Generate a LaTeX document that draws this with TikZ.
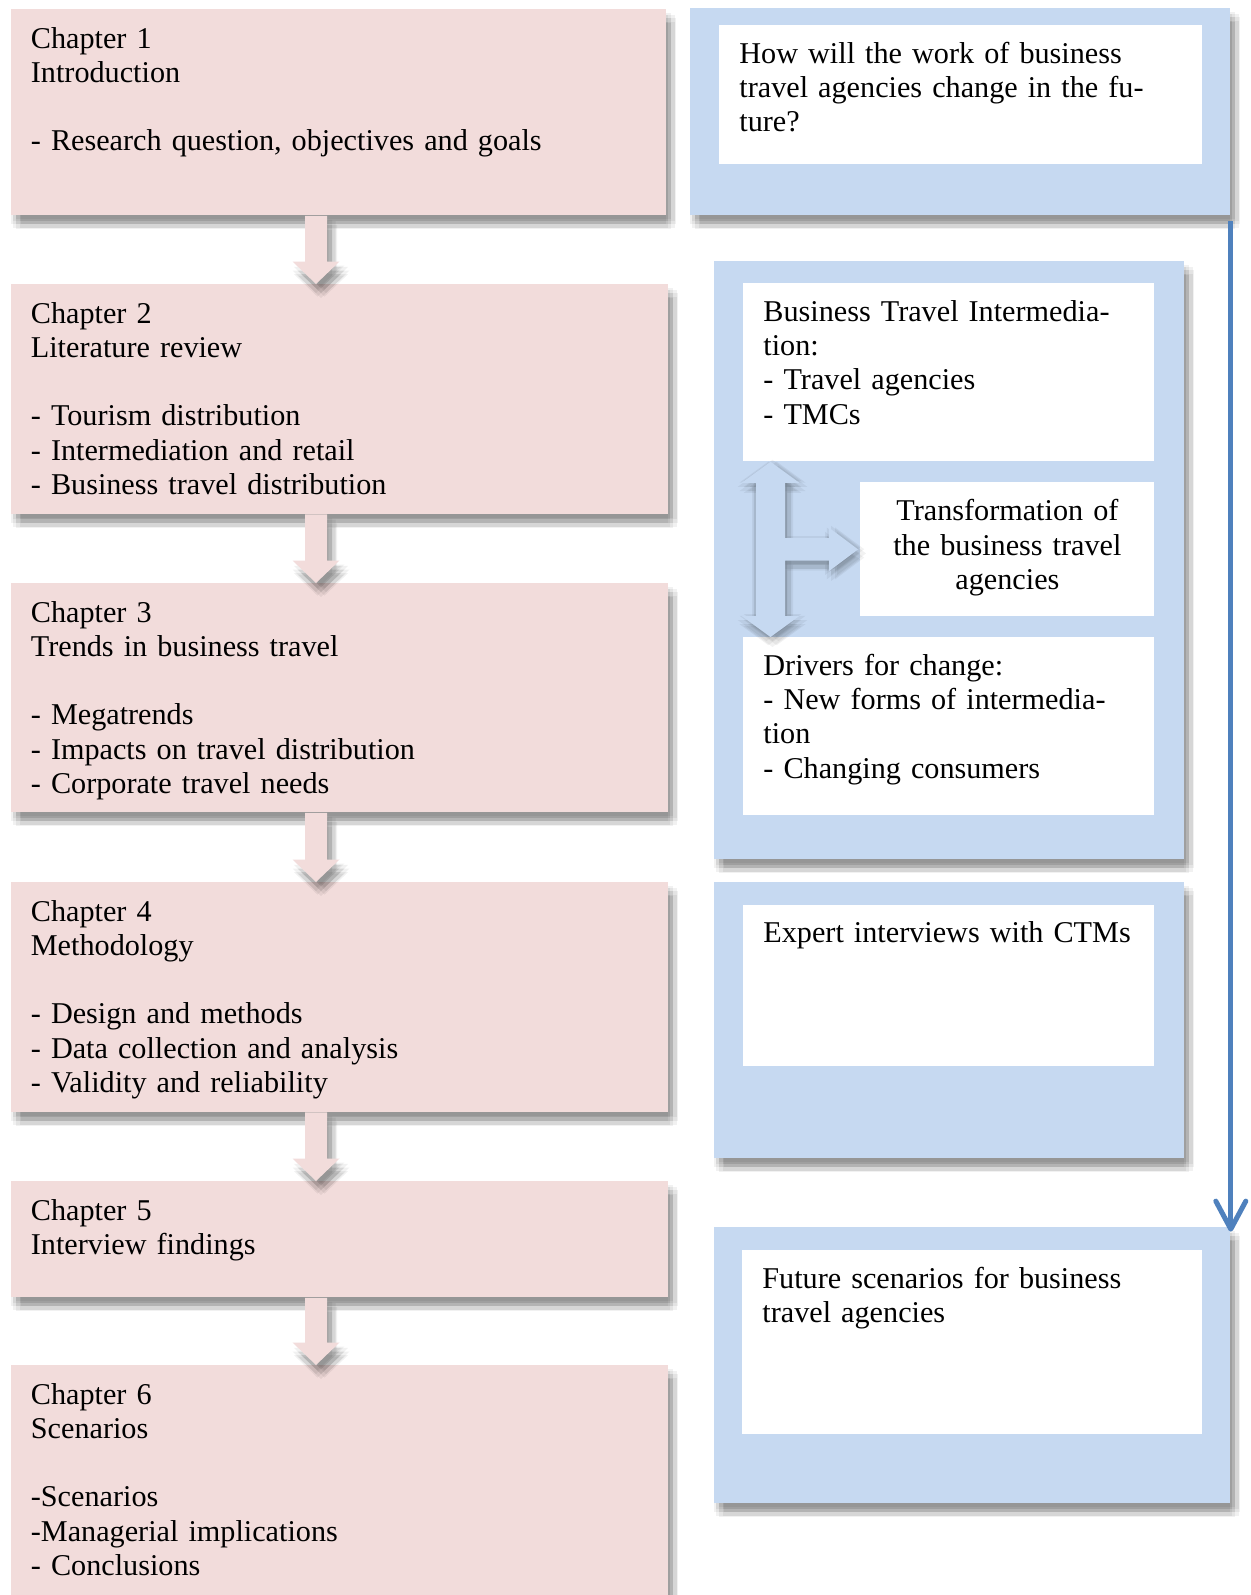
\documentclass[tikz,border=0pt]{standalone}
\usepackage{fontspec}
\setmainfont{Liberation Serif}
\usetikzlibrary{calc,arrows.meta}

\definecolor{chapterpink}{HTML}{F2DCDB}
\definecolor{panelblue}{HTML}{C6D9F1}
\definecolor{flowblue}{HTML}{4F81BD}

\tikzset{
  % one faint shifted copy of the shape; several of them make a soft shadow
  shadowlayer/.style n args={3}{preaction={fill=black, fill opacity=#3, draw=none,
      transform canvas={shift={(#1,#2)}}}},
  softshadow/.style={
      shadowlayer={2.5pt}{-4.5pt}{0.055}, shadowlayer={5pt}{-4.5pt}{0.055},
      shadowlayer={0pt}{-4.5pt}{0.055}, shadowlayer={2.5pt}{-7pt}{0.055},
      shadowlayer={2.5pt}{-2pt}{0.055},
      shadowlayer={4.3pt}{-6.3pt}{0.055}, shadowlayer={0.7pt}{-6.3pt}{0.055},
      shadowlayer={4.3pt}{-2.7pt}{0.055}, shadowlayer={0.7pt}{-2.7pt}{0.055}},
  % wider, nearly centred shadow so the pale arrow stands out on all sides
  haloshadow/.style={
      shadowlayer={1pt}{-2pt}{0.05}, shadowlayer={4pt}{-2pt}{0.05},
      shadowlayer={-2pt}{-2pt}{0.05}, shadowlayer={1pt}{-5pt}{0.05},
      shadowlayer={1pt}{1pt}{0.05},
      shadowlayer={3.1pt}{-4.1pt}{0.05}, shadowlayer={-1.1pt}{-4.1pt}{0.05},
      shadowlayer={3.1pt}{0.1pt}{0.05}, shadowlayer={-1.1pt}{0.1pt}{0.05}},
  chapterbox/.style={rectangle, fill=chapterpink, softshadow, anchor=north west, inner sep=0pt},
  panel/.style={rectangle, fill=panelblue, softshadow, anchor=north west, inner sep=0pt},
  textpane/.style={rectangle, fill=white, anchor=north west, inner sep=0pt},
  bodytext/.style={anchor=base west, inner sep=0pt, text width=#1, align=left,
      font=\fontsize{15.1pt}{17.1pt}\selectfont},
  bodytext/.default=300pt,
  chapterarrow/.style={fill=chapterpink, softshadow},
  splitarrow/.style={fill=panelblue, haloshadow},
  flowline/.style={draw=flowblue, line width=2.5pt,
      -{Straight Barb[length=14pt,width=15pt,round]}}
}

% pink arrow pointing down from one chapter box to the next
\newcommand{\chapterlink}[2]{%
  \path[chapterarrow] let \p1=(#1.south), \p2=(#2.north) in
    (152.5pt,\y1) -- (163.5pt,\y1) -- (163.5pt,{\y2+11.25pt}) --
    (169.75pt,{\y2+11.25pt}) -- (158pt,\y2) -- (146.25pt,{\y2+11.25pt}) --
    (152.5pt,{\y2+11.25pt}) -- cycle;}

\begin{document}
\begin{tikzpicture}[x=0.5pt, y=-0.5pt]
\useasboundingbox (0,0) rectangle (1251,1595);
\fill[white] (0,0) rectangle (1251,1595);
\clip (0,0) rectangle (1251,1595);

% ---- chapter column ----
\node[chapterbox, minimum width=327.5pt, minimum height=103pt]   (c1) at (11,9) {};
\node[chapterbox, minimum width=328.5pt, minimum height=114.75pt] (c2) at (11,284) {};
\node[chapterbox, minimum width=328.5pt, minimum height=114.5pt]  (c3) at (11,583) {};
\node[chapterbox, minimum width=328.5pt, minimum height=114.75pt] (c4) at (11,882) {};
\node[chapterbox, minimum width=328.5pt, minimum height=58pt]     (c5) at (11,1181) {};
\node[chapterbox, minimum width=328.5pt, minimum height=125pt]    (c6) at (11,1365) {};

\chapterlink{c1}{c2}
\chapterlink{c2}{c3}
\chapterlink{c3}{c4}
\chapterlink{c4}{c5}
\chapterlink{c5}{c6}

\node[bodytext] (c1t) at ([xshift=9.75pt,yshift=-19.6pt]c1.north west)
  {Chapter 1\\Introduction\\[17.1pt]- Research question, objectives and goals};
\node[bodytext] (c2t) at ([xshift=9.75pt,yshift=-19.6pt]c2.north west)
  {Chapter 2\\Literature review\\[17.1pt]- Tourism distribution\\- Intermediation and retail\\- Business travel distribution};
\node[bodytext] (c3t) at ([xshift=9.75pt,yshift=-19.6pt]c3.north west)
  {Chapter 3\\Trends in business travel\\[17.1pt]- Megatrends\\- Impacts on travel distribution\\- Corporate travel needs};
\node[bodytext] (c4t) at ([xshift=9.75pt,yshift=-19.6pt]c4.north west)
  {Chapter 4\\Methodology\\[17.1pt]- Design and methods\\- Data collection and analysis\\- Validity and reliability};
\node[bodytext] (c5t) at ([xshift=9.75pt,yshift=-19.6pt]c5.north west)
  {Chapter 5\\Interview findings};
\node[bodytext] (c6t) at ([xshift=9.75pt,yshift=-19.6pt]c6.north west)
  {Chapter 6\\Scenarios\\[17.1pt]-Scenarios\\-Managerial implications\\- Conclusions};

% ---- research column ----
\node[panel, minimum width=270pt, minimum height=103.5pt] (r1) at (690,8) {};
\node[textpane, minimum width=241.5pt, minimum height=69.5pt] (q1) at (719,25) {};
\node[bodytext=235pt] (q1t) at ([xshift=10pt,yshift=-19.2pt]q1.north west)
  {How will the work of business\\travel agencies change in the fu-\\ture?};

\node[panel, minimum width=235pt, minimum height=299pt] (r2) at (714,261) {};
\node[textpane, minimum width=205.5pt, minimum height=89pt] (i1) at (743,283) {};
\node[textpane, minimum width=147pt, minimum height=67pt] (tr) at (860,482) {};
\node[textpane, minimum width=205.5pt, minimum height=89pt] (dr) at (743,637) {};

\path[splitarrow] let \p1=(i1.south west), \p2=(dr.north west), \p3=(tr.west) in
  ({\x1+13.75pt},\y1) -- ({\x1+28.15pt},{\y1-10.5pt}) -- ({\x1+21pt},{\y1-10.5pt}) --
  ({\x1+21pt},{\y3+5.6pt}) -- ({\x3-15.5pt},{\y3+5.6pt}) -- ({\x3-15.5pt},{\y3+10.85pt}) --
  ({\x3-1pt},\y3) -- ({\x3-15.5pt},{\y3-10.85pt}) -- ({\x3-15.5pt},{\y3-5.6pt}) --
  ({\x1+21pt},{\y3-5.6pt}) -- ({\x1+21pt},{\y2+10.5pt}) -- ({\x1+28.15pt},{\y2+10.5pt}) --
  ({\x1+13.75pt},\y2) -- ({\x1-0.65pt},{\y2+10.5pt}) -- ({\x1+6.5pt},{\y2+10.5pt}) --
  ({\x1+6.5pt},{\y1-10.5pt}) -- ({\x1-0.65pt},{\y1-10.5pt}) -- cycle;

\node[bodytext=200pt] (i1t) at ([xshift=10pt,yshift=-19.2pt]i1.north west)
  {Business Travel Intermedia-\\tion:\\- Travel agencies\\- TMCs};
\node[bodytext=140pt, align=center, anchor=base] (trt) at ([yshift=-19.4pt]tr.north)
  {Transformation of\\the business travel\\agencies};
\node[bodytext=200pt] (drt) at ([xshift=10pt,yshift=-19.2pt]dr.north west)
  {Drivers for change:\\- New forms of intermedia-\\tion\\- Changing consumers};

\node[panel, minimum width=235pt, minimum height=138pt] (r3) at (714,882) {};
\node[textpane, minimum width=205.5pt, minimum height=80.5pt] (ex) at (743,905) {};
\node[bodytext=200pt] (ext) at ([xshift=10pt,yshift=-18.6pt]ex.north west)
  {Expert interviews with CTMs};

\node[panel, minimum width=258pt, minimum height=138pt] (r4) at (714,1227) {};
\node[textpane, minimum width=230pt, minimum height=92pt] (fs) at (742,1250) {};
\node[bodytext=225pt] (fst) at ([xshift=10pt,yshift=-19pt]fs.north west)
  {Future scenarios for business\\travel agencies};

% question leads on to the scenarios
\draw[flowline] ([yshift=-2.5pt]r1.south east) -- ([yshift=-2.3pt]r4.north east);
\end{tikzpicture}
\end{document}
